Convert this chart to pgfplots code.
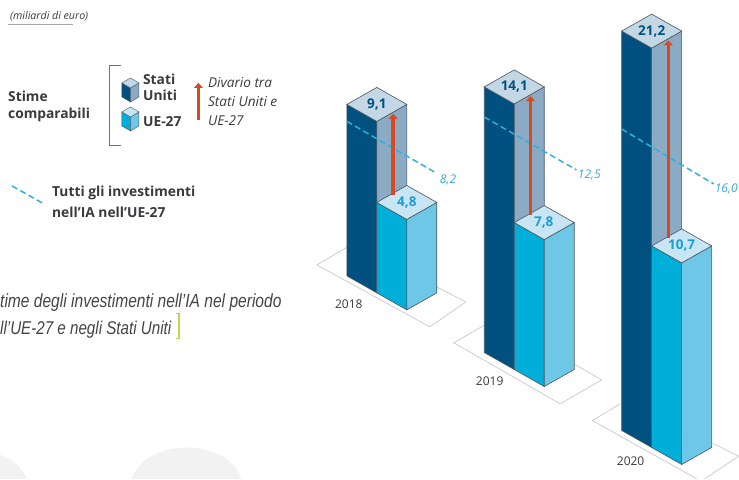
\documentclass[border=0pt]{standalone}
\usepackage{fontspec}
\usepackage{pgfplots}
\pgfplotsset{compat=1.18}
\usetikzlibrary{arrows.meta}
\setmainfont{Open Sans}
\newfontfamily\narrowfont[FakeStretch=0.82]{Liberation Sans}
\definecolor{usleft}{HTML}{00517F}
\definecolor{usright}{HTML}{8BAAC4}
\definecolor{ustop}{HTML}{C4D7E5}
\definecolor{euleft}{HTML}{00AEDA}
\definecolor{euright}{HTML}{6FC7E8}
\definecolor{eutop}{HTML}{C8E5F3}
\definecolor{edge}{HTML}{4A5560}
\definecolor{gaparrow}{HTML}{D8491F}
\definecolor{dashblue}{HTML}{2FB0DC}
\definecolor{euvalue}{HTML}{1A9FD4}
\definecolor{dashlabel}{HTML}{3AA6D8}
\definecolor{lime}{HTML}{BCD64B}
\definecolor{txt}{HTML}{3A3A3C}
\definecolor{capt}{HTML}{444444}
\definecolor{plate}{HTML}{C9C9C9}
\newcommand{\fs}[1]{\fontsize{#1}{#1}\selectfont}
% Rectangular prism: base corners L,F,R,B in the ground plane, height #5, face colours #6-#8
\newcommand{\prism}[8]{%
  \addplot3[fill=#6,draw=edge,line width=0.6pt,no marks] coordinates {(#1,0)(#2,0)(#2,#5)(#1,#5)} --cycle;
  \addplot3[fill=#7,draw=edge,line width=0.6pt,no marks] coordinates {(#2,0)(#3,0)(#3,#5)(#2,#5)} --cycle;
  \addplot3[fill=#8,draw=edge,line width=0.6pt,no marks] coordinates {(#1,#5)(#2,#5)(#3,#5)(#4,#5)} --cycle;
}
\tikzset{
  gap/.style={gaparrow,line width=3.4pt,-{Triangle[length=5pt,width=9pt]}},
  allinv/.style={dashblue,line width=1.5pt,dash pattern=on 6pt off 3.5pt},
  val/.style={font=\fs{13.5}\bfseries},
  lab/.style={anchor=west,inner sep=0pt},
}
\begin{document}
\begin{tikzpicture}
\begin{axis}[
  hide axis, clip=false,
  x={(1pt,0pt)}, y={(0pt,-1pt)}, z={(0pt,18.85pt)},
  xmin=0, xmax=739, ymin=18.85, ymax=479, zmin=0, zmax=1,
]
% page extent
\path (axis cs:0,0,0) (axis cs:739,479,0);
% faint discs along the lower edge
\fill[black!5] (axis cs:131.7,479,0) .. controls (axis cs:140,456,0) and (axis cs:165,447.7,0) .. (axis cs:186.7,447.7,0)
   .. controls (axis cs:208,447.7,0) and (axis cs:233,456,0) .. (axis cs:241.7,479,0) -- cycle;
\fill[black!5] (axis cs:0,455,0) .. controls (axis cs:12,458,0) and (axis cs:22,468,0) .. (axis cs:26.7,479,0) -- (axis cs:0,479,0) -- cycle;

% ground plates
\addplot3[draw=plate,line width=0.7pt,no marks] coordinates {(317,265,0)(430,327,0)(466,302,0)(353,244,0)} --cycle;
\addplot3[draw=plate,line width=0.7pt,no marks] coordinates {(454,343,0)(560.5,404,0)(602,380,0)(495.5,319,0)} --cycle;
\addplot3[draw=plate,line width=0.7pt,no marks] coordinates {(620.7,404,0)(592.7,420.7,0)(697,479,0)};
\addplot3[draw=plate,line width=0.7pt,no marks] coordinates {(705,479,0)(739,456.5,0)};
\addplot3[draw=plate,line width=0.7pt,no marks] coordinates {(700,437,0)(739,456.5,0)};

% 2018
\prism{347,276}{377,293}{407,276}{377,259}{9.1}{usleft}{usright}{ustop}
\prism{377,293}{407,310}{437,293}{407,276}{4.8}{euleft}{euright}{eutop}
\addplot3[allinv,no marks] coordinates {(347,276,8.2)(437,328,8.2)};
\addplot3[gap,no marks] coordinates {(393.3,285.5,4.8)(393.3,285.5,9.1)};
% 2019
\prism{484.5,352.7}{514.5,369.7}{544.5,352.7}{514.5,335.7}{14.1}{usleft}{usright}{ustop}
\prism{514.5,369.7}{544.5,386.7}{574.5,369.7}{544.5,352.7}{7.8}{euleft}{euright}{eutop}
\addplot3[allinv,no marks] coordinates {(484.5,352.7,12.5)(576.7,405.6,12.5)};
\addplot3[gap,no marks] coordinates {(530.7,362,7.8)(530.7,362,14.1)};
% 2020
\prism{622,430.7}{652,447.7}{682,430.7}{652,413.7}{21.2}{usleft}{usright}{ustop}
\prism{652,447.7}{682,464.7}{712,447.7}{682,430.7}{10.7}{euleft}{euright}{eutop}
\addplot3[allinv,no marks] coordinates {(622,430.7,16.0)(714,485.6,16.0)};
\addplot3[gap,no marks] coordinates {(668.7,440,10.7)(668.7,440,21.2)};

% values on the prism tops and beside the dashed lines
\node[val,text=usleft] at (axis cs:377,276,9.1) {9,1};
\node[val,text=euvalue] at (axis cs:407,293,4.8) {4,8};
\node[val,text=usleft] at (axis cs:514.5,352.7,14.1) {14,1};
\node[val,text=euvalue] at (axis cs:544,369.7,7.8) {7,8};
\node[val,text=usleft] at (axis cs:652,430.7,21.2) {21,2};
\node[val,text=euvalue] at (axis cs:682,447.7,10.7) {10,7};
\node[lab,font=\fs{12}\itshape,text=dashlabel] at (axis cs:440,180.5,0) {8,2};
\node[lab,font=\fs{12}\itshape,text=dashlabel] at (axis cs:578,175,0) {12,5};
\node[lab,font=\fs{12}\itshape,text=dashlabel] at (axis cs:715,189,0) {16,0};

% year labels
\node[lab,font=\fs{12},text=txt] at (axis cs:335,304,0) {2018};
\node[lab,font=\fs{12},text=txt] at (axis cs:476,381,0) {2019};
\node[lab,font=\fs{12},text=txt] at (axis cs:617,461,0) {2020};

% unit note
\node[lab,font=\fs{10.6}\itshape,text=txt] at (axis cs:10,16,0) {(miliardi di euro)};
\draw[black!35,line width=1.2pt] (axis cs:8,24.5,0) -- (axis cs:73,24.5,0);

% key
\node[lab,font=\fs{13.8}\bfseries,text=txt] at (axis cs:8,96,0) {Stime};
\node[lab,font=\fs{13.8}\bfseries,text=txt] at (axis cs:8,115,0) {comparabili};
\draw[black!55,line width=0.8pt] (axis cs:121,65.5,0) -- (axis cs:109,65.5,0) -- (axis cs:109,145.5,0) -- (axis cs:121,145.5,0);
\node[lab,font=\fs{13.8}\bfseries,text=txt] at (axis cs:143,79,0) {Stati};
\node[lab,font=\fs{13.8}\bfseries,text=txt] at (axis cs:143,95,0) {Uniti};
\node[lab,font=\fs{13.8}\bfseries,text=txt] at (axis cs:143,122,0) {UE-27};
% key cubes
\fill[usleft,draw=edge,line width=0.4pt] (axis cs:122,83,0) -- (axis cs:130.5,88,0) -- (axis cs:130.5,102,0) -- (axis cs:122,97,0) -- cycle;
\fill[usright,draw=edge,line width=0.4pt] (axis cs:130.5,88,0) -- (axis cs:139,83,0) -- (axis cs:139,97,0) -- (axis cs:130.5,102,0) -- cycle;
\fill[ustop,draw=edge,line width=0.4pt] (axis cs:122,83,0) -- (axis cs:130.5,78,0) -- (axis cs:139,83,0) -- (axis cs:130.5,88,0) -- cycle;
\fill[euleft,draw=edge,line width=0.4pt] (axis cs:122,112,0) -- (axis cs:130.5,117,0) -- (axis cs:130.5,131,0) -- (axis cs:122,126,0) -- cycle;
\fill[euright,draw=edge,line width=0.4pt] (axis cs:130.5,117,0) -- (axis cs:139,112,0) -- (axis cs:139,126,0) -- (axis cs:130.5,131,0) -- cycle;
\fill[eutop,draw=edge,line width=0.4pt] (axis cs:122,112,0) -- (axis cs:130.5,107,0) -- (axis cs:139,112,0) -- (axis cs:130.5,117,0) -- cycle;
% key arrow and text
\draw[gap] (axis cs:198.5,120,0) -- (axis cs:198.5,83,0);
\node[lab,font=\fs{13.6}\itshape,text=txt] at (axis cs:208,83,0) {Divario tra};
\node[lab,font=\fs{13.6}\itshape,text=txt] at (axis cs:208,102,0) {Stati Uniti e};
\node[lab,font=\fs{13.6}\itshape,text=txt] at (axis cs:208,121,0) {UE-27};
% dashed-line key
\draw[allinv] (axis cs:12,186,0) -- (axis cs:44,204,0);
\node[lab,font=\fs{13.8}\bfseries,text=txt] at (axis cs:52,193,0) {Tutti gli investimenti};
\node[lab,font=\fs{13.8}\bfseries,text=txt] at (axis cs:52,212,0) {nell’IA nell’UE-27};

% caption running in from the left edge
\node[lab,font=\fs{19}\narrowfont\itshape,text=capt] at (axis cs:0,303,0) {time degli investimenti nell’IA nel periodo};
\node[lab,font=\fs{18.5}\narrowfont\itshape,text=capt] at (axis cs:0,330,0) {ll’UE-27 e negli Stati Uniti};
\draw[lime,line width=1.6pt] (axis cs:176,313.5,0) -- (axis cs:179.3,313.5,0) -- (axis cs:179.3,338.7,0) -- (axis cs:176,338.7,0);
\end{axis}
\end{tikzpicture}
\end{document}
